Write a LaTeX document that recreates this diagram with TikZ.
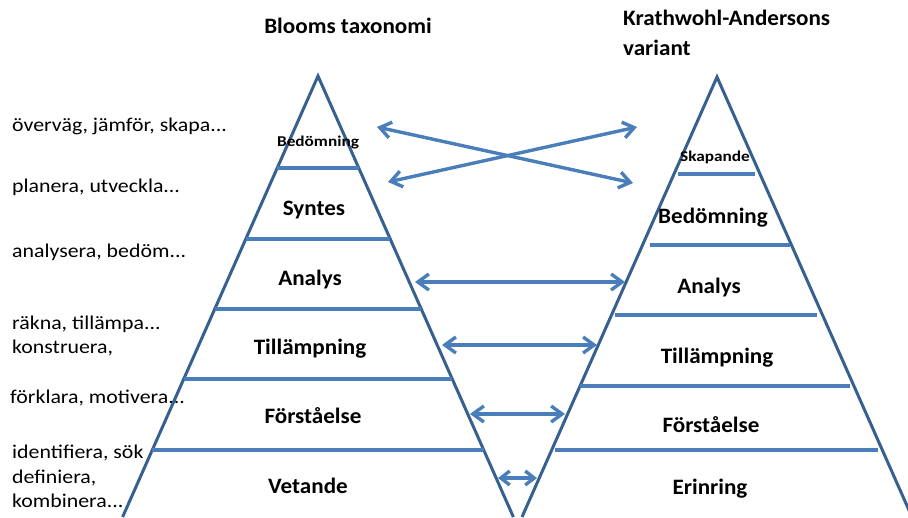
\documentclass[tikz,border=0pt]{standalone}
\usepackage{fontspec}
\setmainfont{Carlito}
\usetikzlibrary{arrows.meta}
\definecolor{edgeblue}{HTML}{36618F}
\definecolor{lineblue}{HTML}{4A7EBB}
\tikzset{
  edge/.style={draw=edgeblue,line width=3pt},
  level/.style={draw=lineblue,line width=3.2pt},
  link/.style={draw=lineblue,line width=3.4pt,
    {Straight Barb[length=11pt,width=16pt]}-{Straight Barb[length=11pt,width=16pt]}},
  verb/.style={anchor=base west,inner sep=0pt,font=\fontsize{19.5}{22}\selectfont,xscale=1.12},
  lab/.style={anchor=base,inner sep=0pt,font=\bfseries\fontsize{22}{26}\selectfont,xscale=1.05},
  smalllab/.style={anchor=base,inner sep=0pt,font=\bfseries\fontsize{15}{18}\selectfont,xscale=1.15},
}
\begin{document}
\begin{tikzpicture}[x=1pt,y=-1pt]
\path[use as bounding box] (0,0) rectangle (908,517);
\clip (0,0) rectangle (908,517);
% titles
\node[lab] (t1) at (348,33) {Blooms taxonomi};
\node[lab,anchor=base west] (t2) at (623,25) {Krathwohl-Andersons};
\node[lab,anchor=base west] (t3) at (623,55) {variant};
% verbs
\node[verb] (v1) at (12,131) {överväg, jämför, skapa...};
\node[verb] (v2) at (12,192) {planera, utveckla...};
\node[verb] (v3) at (12,257) {analysera, bedöm...};
\node[verb] (v4) at (12,329) {räkna, tillämpa...};
\node[verb] (v5) at (12,353) {konstruera,};
\node[verb] (v6) at (10,403) {förklara, motivera...};
\node[verb] (v7) at (12,458) {identifiera, sök};
\node[verb] (v8) at (12,483) {definiera,};
\node[verb] (v9) at (12,507) {kombinera...};
% left pyramid
\coordinate (LA) at (318,76);
\coordinate (LL) at (122.6,517);
\coordinate (LR) at (513.4,517);
\draw[edge] (LL) -- (LA) -- (LR);
\draw[level] (277.2,168) -- (358.8,168);
\draw[level] (245.8,239) -- (390.2,239);
\draw[level] (214.8,309) -- (421.2,309);
\draw[level] (183.8,379) -- (452.2,379);
\draw[level] (152.3,450) -- (483.7,450);
\node[smalllab] (lb1) at (318,146) {Bedömning};
\node[lab] (lb2) at (314,215) {Syntes};
\node[lab] (lb3) at (310,285) {Analys};
\node[lab] (lb4) at (310,354) {Tillämpning};
\node[lab] (lb5) at (313,423) {Förståelse};
\node[lab] (lb6) at (308,493) {Vetande};
% right pyramid
\coordinate (RA) at (717,77);
\coordinate (RL) at (522,517);
\coordinate (RR) at (912,517);
\draw[edge] (RL) -- (RA) -- (RR);
\draw[level] (678,174) -- (755,174);
\draw[level] (650,245) -- (790,245);
\draw[level] (615,315) -- (817,315);
\draw[level] (580,386) -- (850,386);
\draw[level] (555,450) -- (878,450);
\node[smalllab] (rb1) at (715,161) {Skapande};
\node[lab] (rb2) at (713,223) {Bedömning};
\node[lab] (rb3) at (709,293) {Analys};
\node[lab] (rb4) at (717,363) {Tillämpning};
\node[lab] (rb5) at (711,432) {Förståelse};
\node[lab] (rb6) at (710,494) {Erinring};
% arrow ends
\coordinate (a1) at (377,127);
\coordinate (b1) at (633,183);
\coordinate (a2) at (388,182);
\coordinate (b2) at (637,127);
\coordinate (a3) at (415,282);
\coordinate (b3) at (625,282);
\coordinate (a4) at (442,345);
\coordinate (b4) at (597,345);
\coordinate (a5) at (470,414);
\coordinate (b5) at (565,414);
\coordinate (a6) at (498,478);
\coordinate (b6) at (537,478);
\draw[link] (a1) -- (b1);
\draw[link] (a2) -- (b2);
\draw[link] (a3) -- (b3);
\draw[link] (a4) -- (b4);
\draw[link] (a5) -- (b5);
\draw[link,{Straight Barb[length=9pt,width=14pt]}-{Straight Barb[length=9pt,width=14pt]}] (a6) -- (b6);
\end{tikzpicture}
\end{document}
